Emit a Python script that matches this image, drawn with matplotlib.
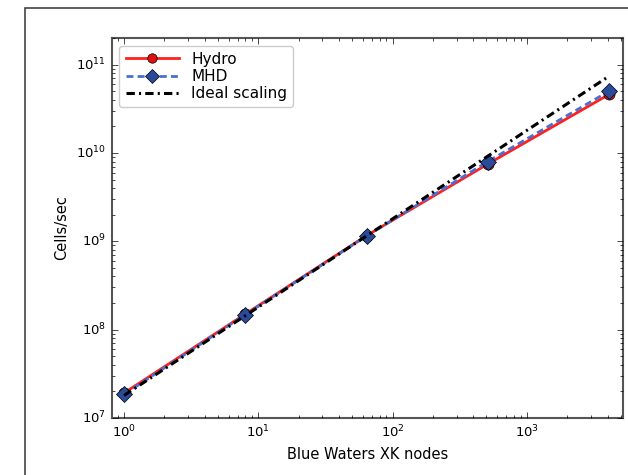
import numpy as np
import matplotlib
matplotlib.use('Agg')
import matplotlib.pyplot as plt
from matplotlib.patches import Rectangle

# node counts and throughput (cells/sec)
nodes = [1, 8, 64, 512, 4096]
hydro = [1.92e7, 1.50e8, 1.16e9, 7.5e9, 4.6e10]
mhd = [1.85e7, 1.48e8, 1.15e9, 8.0e9, 5.0e10]
ideal = [1.80e7, 1.44e8, 1.15e9, 9.2e9, 7.4e10]


def main():
    plt.style.use('classic')
    matplotlib.rcParams.update({'font.size': 10, 'font.family': 'DejaVu Sans'})

    fig = plt.figure(figsize=(6.28, 4.75), dpi=100)
    fig.patch.set_facecolor('white')
    # thin border around the picture
    fig.patches.append(Rectangle((25 / 628., -0.05), 1.0, 1 - 8 / 475. + 0.05,
                                 transform=fig.transFigure, fill=False,
                                 edgecolor='#444444', linewidth=1.2))

    ax = fig.add_axes([0.178, 0.12, 0.814, 0.80])
    ax.plot(nodes, hydro, '-', color='#ff2020', lw=2, marker='o', ms=8,
            mfc='#e01010', mec='black', label='Hydro')
    ax.plot(nodes, mhd, '--', color='#4a6fd0', lw=2, marker='D', ms=8,
            mfc='#2a4a9a', mec='black', label='MHD', dashes=(5, 3))
    ax.plot(nodes, ideal, '-.', color='black', lw=2.2, label='Ideal scaling',
            dashes=(6, 3, 1.5, 3))

    ax.set_xscale('log')
    ax.set_yscale('log')
    ax.set_xlim(0.81, 5200)
    ax.set_ylim(1e7, 2e11)
    ax.set_xlabel('Blue Waters XK nodes', fontsize=10.5)
    ax.set_ylabel('Cells/sec', fontsize=10.5)
    ax.tick_params(labelsize=9.5)
    for s in ax.spines.values():
        s.set_color('#555555')
        s.set_linewidth(1.5)

    leg = ax.legend(loc='upper left', fontsize=11, fancybox=True, numpoints=1,
                    handlelength=3.5, borderaxespad=0.5, labelspacing=0.15,
                    markerscale=0.85)
    leg.get_frame().set_edgecolor('#cccccc')

    plt.savefig('out.png', dpi=100, facecolor='white')


if __name__ == '__main__':
    main()
